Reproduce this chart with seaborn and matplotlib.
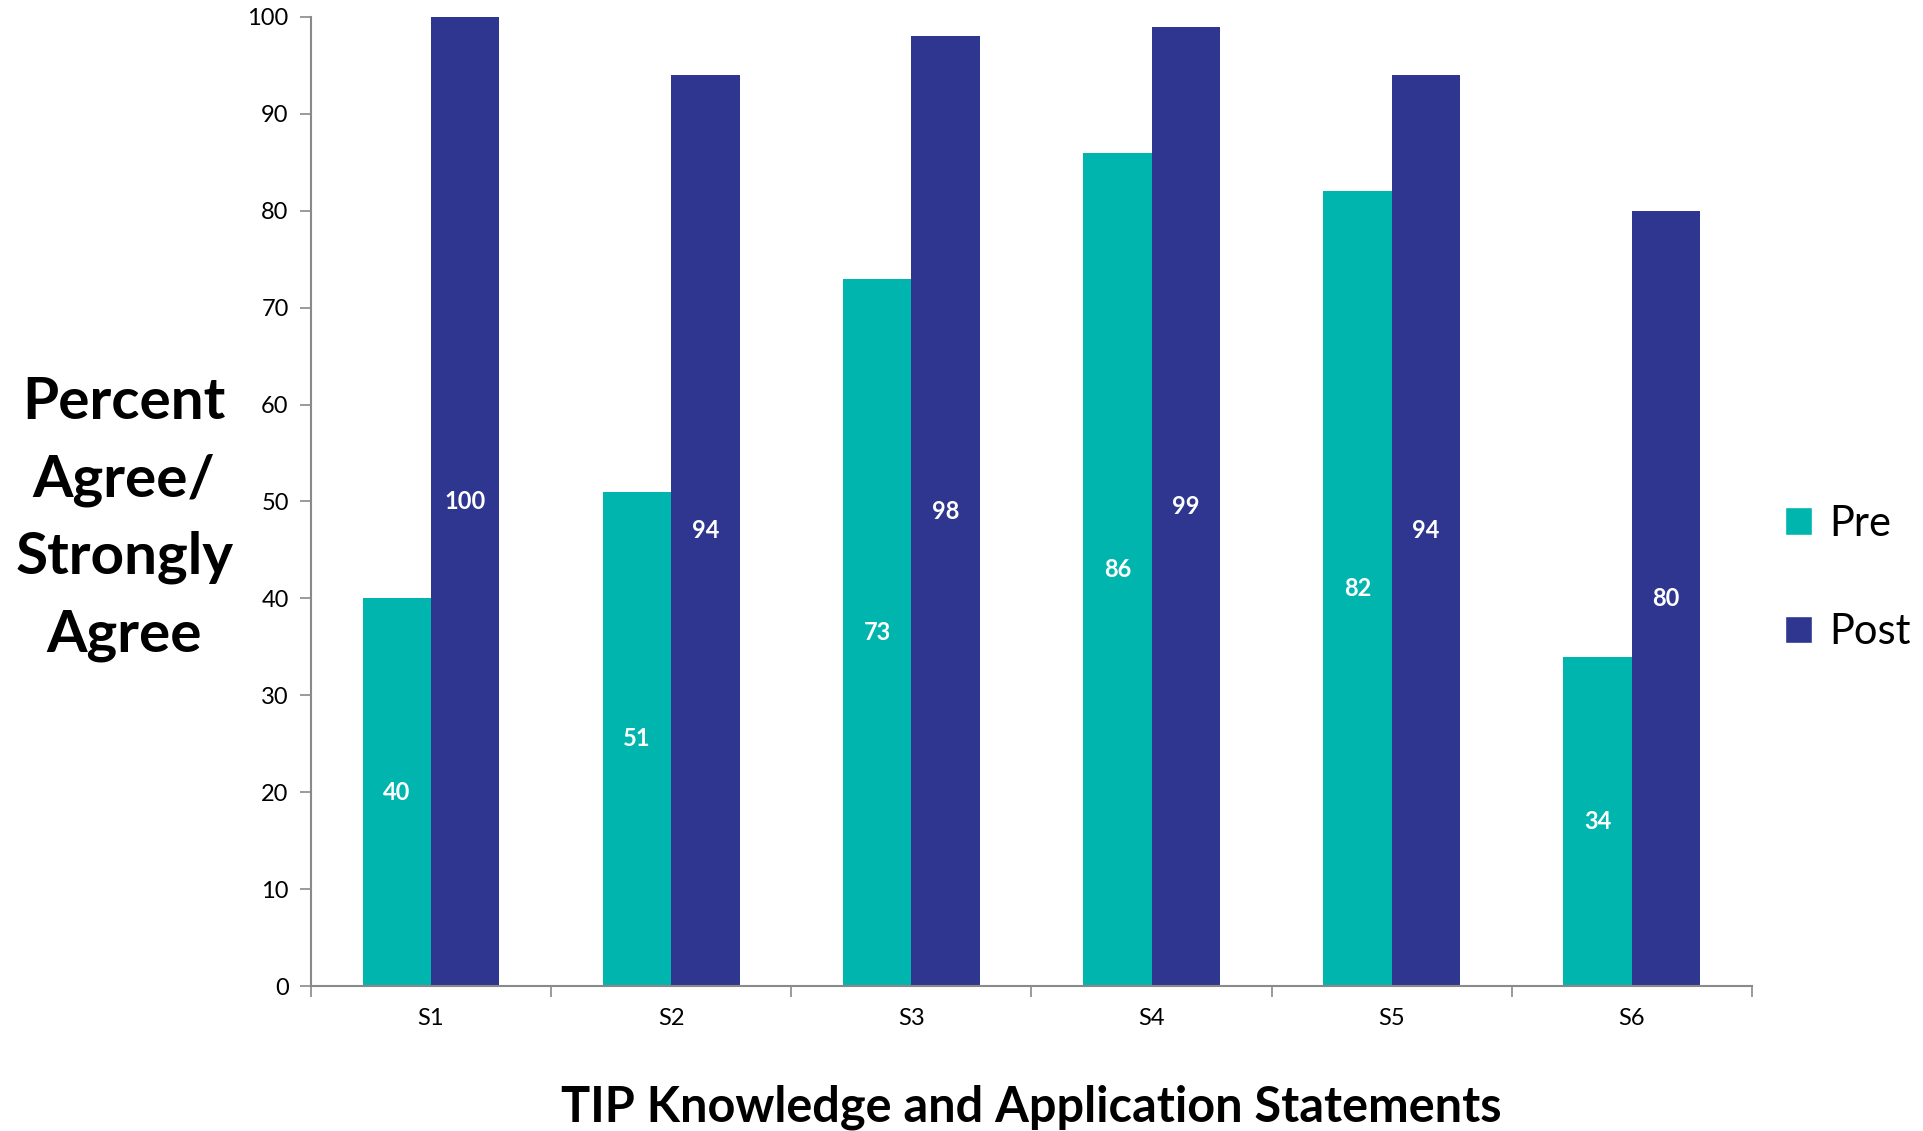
import pandas as pd
import matplotlib
matplotlib.use('Agg')
import matplotlib.pyplot as plt
from matplotlib.patches import Patch
import seaborn as sns

# datos
statements = ['S1', 'S2', 'S3', 'S4', 'S5', 'S6']
pre = [40, 51, 73, 86, 82, 34]
post = [100, 94, 98, 99, 94, 80]
series_names = ['Pre', 'Post']
colors = ['#00B5AD', '#2E3690']

df = pd.DataFrame({
    'Statement': statements * 2,
    'Percent': pre + post,
    'Group': [series_names[0]] * len(pre) + [series_names[1]] * len(post),
})

sns.set_style('white')
plt.rcParams['font.family'] = ['Lato', 'DejaVu Sans']
plt.rcParams['text.color'] = 'black'
plt.rcParams['xtick.color'] = 'black'
plt.rcParams['ytick.color'] = 'black'

fig = plt.figure(figsize=(19.24, 11.31), dpi=100)
ax = fig.add_axes([0.1616, 0.1282, 0.7490, 0.8568])

sns.barplot(data=df, x='Statement', y='Percent', hue='Group', order=statements,
            hue_order=series_names, palette=colors, width=0.57, gap=0,
            saturation=1, linewidth=0, legend=False, ax=ax)

for cont in ax.containers:
    ax.bar_label(cont, label_type='center', color='white', fontsize=17,
                 fontweight='bold')

ax.set_ylim(0, 100)
ax.set_xlim(-0.5, len(statements) - 0.5)
ax.set_yticks(range(0, 101, 10))
ax.tick_params(axis='y', labelsize=17, length=8, width=1.2, color='#898989',
               labelcolor='black', direction='out', left=True, pad=8)
ax.tick_params(axis='x', which='major', labelsize=17, length=0, pad=16,
               labelcolor='black')
ax.set_xticks([i + 0.5 for i in range(-1, len(statements))], minor=True)
ax.tick_params(axis='x', which='minor', length=8, width=1.2, color='#898989',
               direction='out', bottom=True)

for side in ['top', 'right']:
    ax.spines[side].set_visible(False)
for side in ['left', 'bottom']:
    ax.spines[side].set_color('#898989')
    ax.spines[side].set_linewidth(1.5)

ax.set_xlabel('')
ax.set_ylabel('')
fig.text(0.0645, 0.541, 'Percent\nAgree/\nStrongly\nAgree', ha='center',
         va='center', fontsize=42, fontweight='bold', linespacing=1.56)
fig.text(0.536, 0.021, 'TIP Knowledge and Application Statements',
         ha='center', va='center', fontsize=35, fontweight='bold')

handles = [Patch(facecolor=c, label=n) for c, n in zip(colors, series_names)]
fig.legend(handles=handles, loc='center left', bbox_to_anchor=(0.928, 0.489),
           bbox_transform=fig.transFigure, frameon=False, fontsize=30,
           handlelength=0.64, handleheight=0.64, handletextpad=0.4,
           labelspacing=1.7, borderpad=0, borderaxespad=0)

fig.savefig('out.png', dpi=100)
